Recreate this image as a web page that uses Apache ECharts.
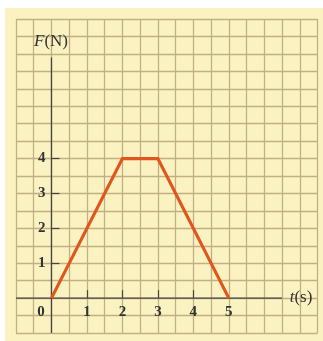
<!DOCTYPE html>
<html>
<head>
<meta charset="utf-8">
<script src="https://cdn.jsdelivr.net/npm/echarts@6/dist/echarts.min.js"></script>
<style>
  html, body { margin: 0; padding: 0; background: #ffffff; }
  #wrap { position: relative; width: 323px; height: 341px; background: #ffffff; overflow: hidden; }
  #paper { position: absolute; left: 5px; top: 8px; width: 318px; height: 333px; background: #fbf2c2; }
  #chart { position: absolute; left: 0; top: 0; width: 323px; height: 341px; }
</style>
</head>
<body>
<div id="wrap"><div id="paper"></div><div id="chart"></div></div>
<script>
// Force F (N) versus time t (s)
const tValues = [0, 2, 3, 5];
const fValues = [0, 4, 4, 0];

// Tick labels
const xTickLabels = [0, 1, 2, 3, 4, 5];
const xTickMarks = [1, 2, 3, 4];
const yTickLabels = [1, 2, 3, 4];
const yTickMarks = [1, 2, 3, 4];

// Axis ranges (graph paper) and drawn axis extents (data units)
const xRange = [-1, 7.5];
const yRange = [-1, 8];
const xAxisExtent = [-1, 6.5];
const yAxisExtent = [-1, 6.9];

const W = 323, H = 341;
const G = { left: 16, right: 5.5, top: 19, bottom: 8 };
// second grid whose left/bottom edges sit on the zero lines of the paper grid
const ux = (W - G.left - G.right) / (xRange[1] - xRange[0]);
const uy = (H - G.top - G.bottom) / (yRange[1] - yRange[0]);
const G2 = { left: G.left + (0 - xRange[0]) * ux, right: G.right, top: G.top, bottom: G.bottom + (0 - yRange[0]) * uy };

const chart = echarts.init(document.getElementById('chart'), null, { renderer: 'canvas' });

const serif = '"Liberation Serif", "DejaVu Serif", serif';
const gridColor = '#c2b083';
const inkColor = '#454545';
const textColor = '#333333';

const option = {
  backgroundColor: 'transparent',
  animation: false,
  grid: [
    { left: G.left, right: G.right, top: G.top, bottom: G.bottom, containLabel: false },
    { left: G2.left, right: G2.right, top: G2.top, bottom: G2.bottom, containLabel: false }
  ],
  xAxis: [
    {
      gridIndex: 0, type: 'value', min: xRange[0], max: xRange[1], interval: 0.5, position: 'bottom',
      axisLine: { show: false, onZero: false }, axisTick: { show: false }, axisLabel: { show: false },
      splitLine: { show: true, lineStyle: { color: gridColor, width: 1.3 } }
    },
    {
      gridIndex: 1, type: 'value', min: 0, max: xRange[1], position: 'bottom',
      axisLine: { show: false, onZero: false },
      axisTick: { show: true, inside: true, length: 8, customValues: xTickMarks, lineStyle: { color: inkColor, width: 1.2 } },
      axisLabel: {
        customValues: xTickLabels, margin: 7, color: textColor, fontFamily: serif, fontSize: 15, fontWeight: 'bold',
        formatter: function (v) { return v === 0 ? '{z|0}' : String(v); },
        rich: { z: { fontFamily: serif, fontSize: 15, fontWeight: 'bold', color: textColor, padding: [0, 21, 0, 0] } }
      },
      splitLine: { show: false }
    }
  ],
  yAxis: [
    {
      gridIndex: 0, type: 'value', min: yRange[0], max: yRange[1], interval: 0.5, position: 'left',
      axisLine: { show: false, onZero: false }, axisTick: { show: false }, axisLabel: { show: false },
      splitLine: { show: true, lineStyle: { color: gridColor, width: 1.3 } }
    },
    {
      gridIndex: 1, type: 'value', min: 0, max: yRange[1], position: 'left',
      axisLine: { show: false, onZero: false },
      axisTick: { show: true, inside: true, length: 8, customValues: yTickMarks, lineStyle: { color: inkColor, width: 1.2 } },
      axisLabel: { customValues: yTickLabels, margin: 6, color: textColor, fontFamily: serif, fontSize: 15, fontWeight: 'bold' },
      splitLine: { show: false }
    }
  ],
  series: [
    {
      name: 'x-axis', type: 'line', xAxisIndex: 0, yAxisIndex: 0, silent: true, symbol: 'none', z: 3,
      data: xAxisExtent.map(function (x) { return [x, 0]; }),
      lineStyle: { color: inkColor, width: 1.3 }
    },
    {
      name: 'y-axis', type: 'line', xAxisIndex: 0, yAxisIndex: 0, silent: true, symbol: 'none', z: 3,
      data: yAxisExtent.map(function (y) { return [0, y]; }),
      lineStyle: { color: inkColor, width: 1.3 }
    },
    {
      name: 'F', type: 'line', xAxisIndex: 0, yAxisIndex: 0, symbol: 'none', z: 5,
      data: tValues.map(function (t, i) { return [t, fValues[i]]; }),
      lineStyle: { color: '#e0561e', width: 3.2, join: 'miter' }
    }
  ],
  graphic: [
    {
      type: 'text', x: 51, y: 42, z: 10,
      style: {
        text: '{i|F}{n|(N)}', fill: textColor, align: 'center', verticalAlign: 'middle',
        rich: {
          i: { fontFamily: serif, fontStyle: 'italic', fontSize: 17, fill: textColor },
          n: { fontFamily: serif, fontSize: 17, fill: textColor }
        }
      }
    },
    {
      type: 'text', x: 301, y: 298, z: 10,
      style: {
        text: '{i|t}{n|(s)}', fill: textColor, align: 'center', verticalAlign: 'middle',
        rich: {
          i: { fontFamily: serif, fontStyle: 'italic', fontSize: 17, fill: textColor },
          n: { fontFamily: serif, fontSize: 17, fill: textColor }
        }
      }
    }
  ]
};

chart.setOption(option);
</script>
</body>
</html>
